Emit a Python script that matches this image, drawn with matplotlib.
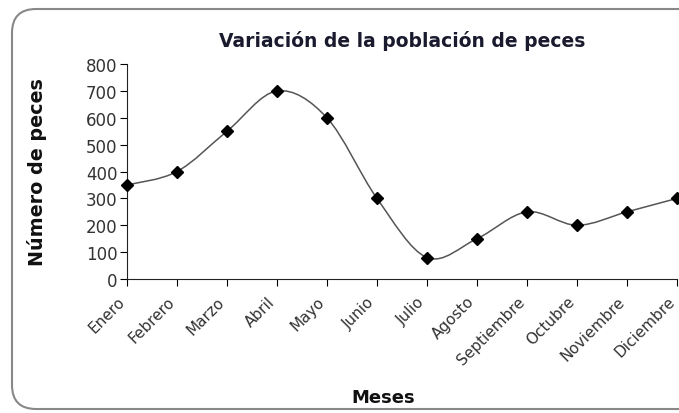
import numpy as np
import matplotlib
matplotlib.use("Agg")
import matplotlib.pyplot as plt
import matplotlib.patches as mpatches
import matplotlib.transforms as mtransforms
from matplotlib.path import Path

# datos
meses = ["Enero", "Febrero", "Marzo", "Abril", "Mayo", "Junio", "Julio",
         "Agosto", "Septiembre", "Octubre", "Noviembre", "Diciembre"]
peces = [350, 400, 550, 700, 600, 300, 80, 150, 250, 200, 250, 300]
y_ticks = [0, 100, 200, 300, 400, 500, 600, 700, 800]

plt.rcParams['font.family'] = ['DejaVu Sans']

fig = plt.figure(figsize=(6.79, 4.14), dpi=100)
ax = fig.add_axes([0.187, 0.3237, 0.81, 0.519])

x = np.arange(len(peces), dtype=float)
y = np.array(peces, dtype=float)

# linea suavizada tipo Excel (bezier cubica)
pts = np.column_stack([x, y])
n = len(pts)
verts = [pts[0]]
codes = [Path.MOVETO]
for i in range(n - 1):
    p_prev = pts[max(i - 1, 0)]
    p0 = pts[i]
    p1 = pts[i + 1]
    p_next = pts[min(i + 2, n - 1)]
    c1 = p0 + (p1 - p_prev) / 6.0
    c2 = p1 - (p_next - p0) / 6.0
    verts += [c1, c2, p1]
    codes += [Path.CURVE4] * 3
curve = mpatches.PathPatch(Path(verts, codes), facecolor='none',
                           edgecolor='#555555', lw=1.1, clip_on=False)
ax.add_patch(curve)
ax.plot(x, y, linestyle='none', marker='D', markersize=6,
        color='black', clip_on=False, zorder=3)

ax.set_xlim(0, len(peces) - 1)
ax.set_ylim(0, 800)
ax.set_yticks(y_ticks)
ax.set_xticks(x)
ax.set_xticklabels(meses, rotation=45, ha='right', rotation_mode='anchor',
                   fontsize=11, color='#333333')
ax.tick_params(axis='y', labelsize=12, labelcolor='#333333', length=5,
               direction='out', pad=2)
ax.tick_params(axis='x', length=5, direction='out', pad=4)

# etiquetas del eje x un poco a la izquierda
shift = mtransforms.ScaledTranslation(-10 / 100, -2 / 100, fig.dpi_scale_trans)
for lbl in ax.get_xticklabels():
    lbl.set_transform(lbl.get_transform() + shift)

for side in ['top', 'right']:
    ax.spines[side].set_visible(False)
ax.spines['left'].set_color('#222222')
ax.spines['bottom'].set_color('#222222')

ax.set_title("Variación de la población de peces", fontsize=13.5,
             fontweight='bold', color='#1a1a2e', pad=13)
ax.set_ylabel("Número de peces", fontsize=13.8, fontweight='bold',
              color='#111111')
ax.yaxis.set_label_coords(-0.145, 0.5)
fig.text(0.565, 0.038, "Meses", fontsize=13, fontweight='bold',
         color='#111111', ha='center', va='center')

# marco redondeado del grafico
frame = mpatches.FancyBboxPatch((12, 4), 720, 400,
                                boxstyle="round,pad=0,rounding_size=24",
                                transform=None, facecolor='none',
                                edgecolor='#888888', lw=1.5)
fig.patches.append(frame)

fig.savefig("out.png", dpi=100)
